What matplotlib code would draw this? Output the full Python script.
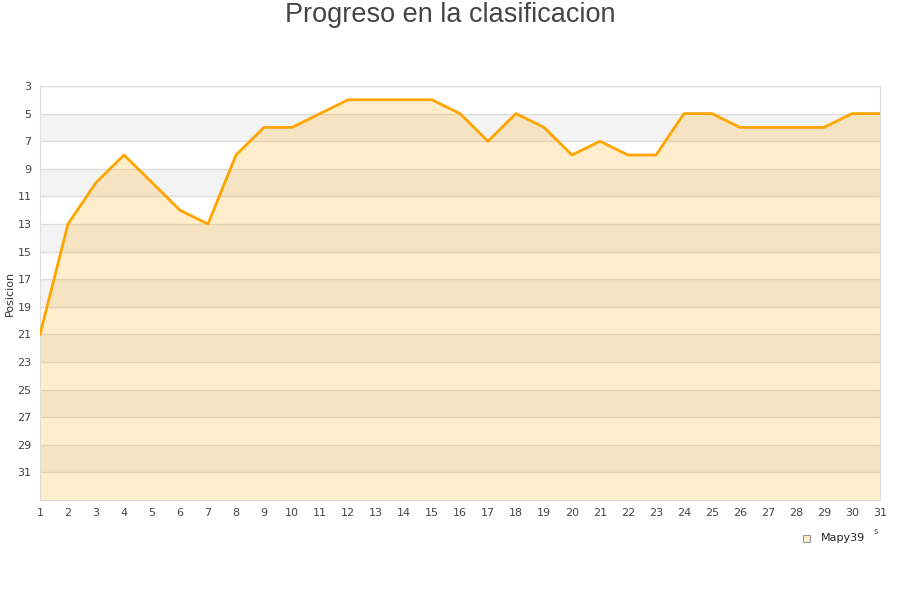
import numpy as np
import matplotlib.pyplot as plt

plt.rcParams['font.family'] = ['DejaVu Sans']

# Datos
jornadas = np.arange(1, 32)
posicion = [21, 13, 10, 8, 10, 12, 13, 8, 6, 6, 5, 4, 4, 4, 4, 5, 7, 5, 6, 8,
            7, 8, 8, 5, 5, 6, 6, 6, 6, 5, 5]
equipo = 'Mapy39'
yticks = list(range(3, 33, 2))

fig = plt.figure(figsize=(9, 6), dpi=100)
ax = fig.add_axes([40 / 900, 100 / 600, 840 / 900, 414 / 600])

# Bandas alternas de fondo
for y0 in range(5, 33, 4):
    ax.axhspan(y0, y0 + 2, color='#f3f3f3', zorder=0, lw=0)
for t in yticks:
    ax.axhline(t, color='#dddddd', lw=1, zorder=1)

ax.fill_between(jornadas, posicion, 33, color='#FFA500', alpha=0.2, lw=0, zorder=2)
ax.plot(jornadas, posicion, color='#FFA500', lw=2, zorder=3)

ax.set_xlim(1, 31)
ax.set_ylim(33, 3)
ax.set_xticks(jornadas)
ax.set_yticks(yticks)
ax.tick_params(length=0, labelsize=8, colors='#444444', pad=6)
for s in ax.spines.values():
    s.set_color('#dddddd')
ax.set_ylabel('Posicion', fontsize=8, color='#333333', labelpad=2)

fig.text(0.5, 1 - 15 / 600, 'Progreso en la clasificacion', ha='center', va='center',
         fontsize=19.5, color='#444444', family='Liberation Sans')

# Leyenda
fig.patches.append(plt.Rectangle((803 / 900, 1 - 542 / 600), 7 / 900, 7 / 600,
                                 transform=fig.transFigure, facecolor='#ffedcc',
                                 edgecolor='#999999', lw=0.8))
fig.text(821 / 900, 1 - 538 / 600, equipo, ha='left', va='center', fontsize=8, color='#222222')
fig.text(876 / 900, 1 - 531 / 600, 's', ha='center', va='center', fontsize=6, color='#444444')

fig.savefig('out.png', dpi=100)
